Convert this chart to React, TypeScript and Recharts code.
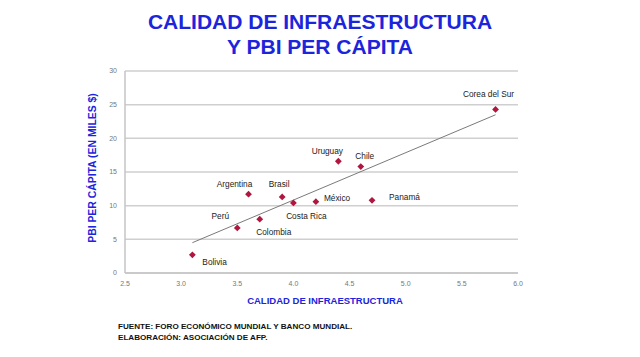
import React from "react";
import {
  ScatterChart,
  Scatter,
  XAxis,
  YAxis,
  CartesianGrid,
} from "recharts";

const COUNTRIES = [
  "Bolivia",
  "Perú",
  "Argentina",
  "Colombia",
  "Brasil",
  "Costa Rica",
  "México",
  "Uruguay",
  "Chile",
  "Panamá",
  "Corea del Sur",
];
const INFRA = [3.1, 3.5, 3.6, 3.7, 3.9, 4.0, 4.2, 4.4, 4.6, 4.7, 5.8];
const PBI = [2.7, 6.7, 11.7, 8.0, 11.3, 10.4, 10.6, 16.6, 15.8, 10.8, 24.3];

const TREND_X = [3.1, 5.8];
const TREND_Y = [4.5, 23.5];

const X_TICKS = [2.5, 3.0, 3.5, 4.0, 4.5, 5.0, 5.5, 6.0];
const Y_TICKS = [0, 5, 10, 15, 20, 25, 30];

// label placement relative to each marker: [dx, dy, anchor]
const LABEL_POS: Record<string, [number, number, string]> = {
  Bolivia: [10, 10, "start"],
  "Perú": [-17, -9, "middle"],
  Argentina: [-14, -7, "middle"],
  Colombia: [14, 16, "middle"],
  Brasil: [-3, -10, "middle"],
  "Costa Rica": [13, 16, "middle"],
  "México": [8, -1, "start"],
  Uruguay: [-11, -7, "middle"],
  Chile: [4, -8, "middle"],
  "Panamá": [17, 0, "start"],
  "Corea del Sur": [-7, -12, "middle"],
};

const points = COUNTRIES.map((name, i) => ({ name, x: INFRA[i], y: PBI[i] }));
const trend = TREND_X.map((x, i) => ({ x, y: TREND_Y[i] }));

const FONT = "'Liberation Sans', Arial, Helvetica, sans-serif";
const BLUE = "#1C24DC";

function Marker(props: any) {
  const { cx, cy, payload } = props;
  const r = 3.4;
  const [dx, dy, anchor] = LABEL_POS[payload.name] || [0, -8, "middle"];
  return (
    <g>
      <polygon
        points={`${cx},${cy - r} ${cx + r},${cy} ${cx},${cy + r} ${cx - r},${cy}`}
        fill="#B0163E"
      />
      <text
        x={cx + dx}
        y={cy + dy}
        textAnchor={anchor as any}
        fontSize={8.3}
        fontFamily={FONT}
        fill="#222"
      >
        {payload.name}
      </text>
    </g>
  );
}

export default function App() {
  return (
    <div
      style={{
        position: "absolute",
        left: 0,
        top: 0,
        width: 640,
        height: 357,
        background: "#fff",
        fontFamily: FONT,
      }}
    >
      <div
        style={{
          position: "absolute",
          top: 9,
          left: 0,
          width: 640,
          textAlign: "center",
          color: BLUE,
          fontWeight: "bold",
          fontSize: 21,
          lineHeight: "25px",
        }}
      >
        CALIDAD DE INFRAESTRUCTURA
        <br />Y PBI PER CÁPITA
      </div>

      <ScatterChart
        width={640}
        height={357}
        margin={{ top: 71, right: 122, bottom: 64, left: 105 }}
      >
        <CartesianGrid vertical={false} stroke="#cfcfcf" strokeWidth={1.5} />
        <XAxis
          type="number"
          dataKey="x"
          domain={[2.5, 6]}
          ticks={X_TICKS}
          tickFormatter={(v: number) => v.toFixed(1)}
          tickLine={false}
          axisLine={{ stroke: "#c4c4c4", strokeWidth: 1.5 }}
          tick={{ fontSize: 7, fill: "#777", fontFamily: FONT }}
          height={20}
        />
        <YAxis
          type="number"
          dataKey="y"
          domain={[0, 30]}
          ticks={Y_TICKS}
          tickLine={false}
          axisLine={{ stroke: "#c4c4c4", strokeWidth: 1.5 }}
          tick={{ fontSize: 7, fill: "#777", fontFamily: FONT }}
          width={20}
        />
        <Scatter
          data={trend}
          line={{ stroke: "#7a7a7a", strokeWidth: 1 }}
          shape={() => <g />}
          isAnimationActive={false}
        />
        <Scatter data={points} shape={Marker} isAnimationActive={false} />
      </ScatterChart>

      <div
        style={{
          position: "absolute",
          left: 92,
          top: 168,
          transform: "translate(-50%, -50%) rotate(-90deg)",
          whiteSpace: "nowrap",
          color: BLUE,
          fontWeight: "bold",
          fontSize: 10.4,
        }}
      >
        PBI PER CÁPITA (EN MILES $)
      </div>

      <div
        style={{
          position: "absolute",
          left: 0,
          top: 295,
          width: 650,
          textAlign: "center",
          color: BLUE,
          fontWeight: "bold",
          fontSize: 9.5,
        }}
      >
        CALIDAD DE INFRAESTRUCTURA
      </div>

      <div
        style={{
          position: "absolute",
          left: 118,
          top: 321,
          color: "#111",
          fontWeight: "bold",
          fontSize: 8.1,
          lineHeight: "11px",
        }}
      >
        FUENTE: FORO ECONÓMICO MUNDIAL Y BANCO MUNDIAL.
        <br />
        ELABORACIÓN: ASOCIACIÓN DE AFP.
      </div>
    </div>
  );
}
